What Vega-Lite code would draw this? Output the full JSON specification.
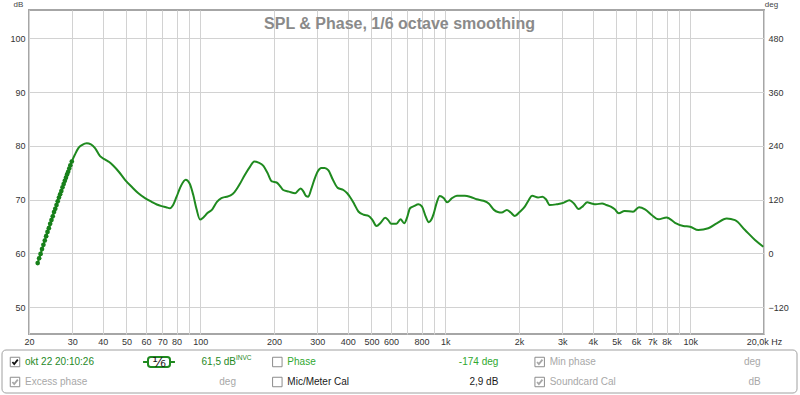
{
  "$schema": "https://vega.github.io/schema/vega-lite/v6.json",
  "width": 735,
  "height": 324,
  "autosize": {"type": "none"},
  "padding": {"left": 29, "top": 10, "right": 36, "bottom": 61},
  "background": "white",
  "config": {
    "font": "Liberation Sans",
    "view": {"stroke": "#a6a6a6", "strokeWidth": 2},
    "axis": {"labelFont": "Liberation Sans", "labelFontSize": 9, "labelColor": "#333333", "ticks": false, "domain": false, "gridColor": "#d2d2d2", "gridWidth": 1, "gridOpacity": 1, "titleFont": "Liberation Sans", "titleFontWeight": "normal", "titleFontSize": 8, "titleColor": "#444444"}
  },
  "title": {
    "text": "SPL & Phase, 1/6 octave smoothing",
    "font": "Liberation Sans",
    "fontSize": 16,
    "fontWeight": "bold",
    "color": "#8a8a8a",
    "anchor": "middle",
    "frame": "group",
    "baseline": "alphabetic",
    "offset": 0,
    "dx": 3,
    "dy": 45
  },
  "datasets": {
    "spl": [
      {"freq": 21.7, "db": 58.2}, {"freq": 22.0, "db": 59.1}, {"freq": 22.3, "db": 59.9}, {"freq": 22.6, "db": 60.8},
      {"freq": 22.9, "db": 61.6}, {"freq": 23.2, "db": 62.4}, {"freq": 23.5, "db": 63.2}, {"freq": 23.8, "db": 64.0},
      {"freq": 24.1, "db": 64.7}, {"freq": 24.4, "db": 65.5}, {"freq": 24.7, "db": 66.2}, {"freq": 25.0, "db": 66.9},
      {"freq": 25.3, "db": 67.7}, {"freq": 25.6, "db": 68.3}, {"freq": 25.9, "db": 69.0}, {"freq": 26.2, "db": 69.7},
      {"freq": 26.5, "db": 70.4}, {"freq": 26.8, "db": 71.0}, {"freq": 27.1, "db": 71.6}, {"freq": 27.4, "db": 72.3},
      {"freq": 27.7, "db": 72.9}, {"freq": 28.0, "db": 73.5}, {"freq": 28.3, "db": 74.1}, {"freq": 28.6, "db": 74.7},
      {"freq": 28.9, "db": 75.2}, {"freq": 29.2, "db": 75.8}, {"freq": 29.5, "db": 76.4}, {"freq": 29.9, "db": 77.1},
      {"freq": 30.8, "db": 78.4}, {"freq": 31.8, "db": 79.6}, {"freq": 33.0, "db": 80.2}, {"freq": 34.4, "db": 80.5},
      {"freq": 35.8, "db": 80.3}, {"freq": 37.2, "db": 79.6}, {"freq": 39.0, "db": 78.1}, {"freq": 40.8, "db": 77.5},
      {"freq": 42.5, "db": 77.0}, {"freq": 44.2, "db": 76.3}, {"freq": 46.5, "db": 75.2}, {"freq": 49.3, "db": 73.7},
      {"freq": 52.5, "db": 72.4}, {"freq": 55.9, "db": 71.2}, {"freq": 59.5, "db": 70.3}, {"freq": 63.3, "db": 69.6},
      {"freq": 66.5, "db": 69.1}, {"freq": 69.5, "db": 68.8}, {"freq": 72.5, "db": 68.6}, {"freq": 75.2, "db": 68.4},
      {"freq": 77.5, "db": 69.0}, {"freq": 80.0, "db": 70.5}, {"freq": 83.5, "db": 72.6}, {"freq": 87.2, "db": 73.7},
      {"freq": 90.5, "db": 73.0}, {"freq": 93.6, "db": 70.9}, {"freq": 96.5, "db": 68.3}, {"freq": 99.8, "db": 66.3},
      {"freq": 103, "db": 66.7}, {"freq": 107, "db": 67.5}, {"freq": 112, "db": 68.2}, {"freq": 117, "db": 69.6},
      {"freq": 122, "db": 70.3}, {"freq": 128, "db": 70.55}, {"freq": 133, "db": 70.8}, {"freq": 138, "db": 71.4},
      {"freq": 145, "db": 72.9}, {"freq": 152, "db": 74.6}, {"freq": 160, "db": 76.2}, {"freq": 166, "db": 77.1},
      {"freq": 173, "db": 76.9}, {"freq": 181, "db": 76.3}, {"freq": 188, "db": 75.0}, {"freq": 196, "db": 73.4},
      {"freq": 205, "db": 73.2}, {"freq": 212, "db": 72.5}, {"freq": 218, "db": 71.8}, {"freq": 230, "db": 71.5},
      {"freq": 244, "db": 71.2}, {"freq": 251, "db": 71.7}, {"freq": 257, "db": 72.1}, {"freq": 264, "db": 71.5},
      {"freq": 270, "db": 70.7}, {"freq": 276, "db": 70.55}, {"freq": 284, "db": 72.0}, {"freq": 292, "db": 73.7},
      {"freq": 302, "db": 75.3}, {"freq": 312, "db": 75.9}, {"freq": 322, "db": 75.9}, {"freq": 333, "db": 75.5},
      {"freq": 348, "db": 73.7}, {"freq": 364, "db": 72.2}, {"freq": 384, "db": 71.8}, {"freq": 398, "db": 71.2},
      {"freq": 408, "db": 70.55}, {"freq": 425, "db": 69.2}, {"freq": 442, "db": 67.8}, {"freq": 465, "db": 67.2},
      {"freq": 486, "db": 67.0}, {"freq": 505, "db": 66.2}, {"freq": 524, "db": 65.1}, {"freq": 545, "db": 65.7},
      {"freq": 569, "db": 66.65}, {"freq": 585, "db": 66.2}, {"freq": 602, "db": 65.5}, {"freq": 632, "db": 65.5},
      {"freq": 657, "db": 66.35}, {"freq": 680, "db": 65.6}, {"freq": 700, "db": 66.8}, {"freq": 718, "db": 68.4},
      {"freq": 745, "db": 68.8}, {"freq": 778, "db": 69.14}, {"freq": 804, "db": 68.7}, {"freq": 830, "db": 67.0},
      {"freq": 857, "db": 65.8}, {"freq": 878, "db": 66.3}, {"freq": 898, "db": 67.46}, {"freq": 925, "db": 69.6},
      {"freq": 950, "db": 70.68}, {"freq": 985, "db": 70.3}, {"freq": 1018, "db": 69.5}, {"freq": 1060, "db": 70.2},
      {"freq": 1116, "db": 70.74}, {"freq": 1202, "db": 70.74}, {"freq": 1270, "db": 70.5}, {"freq": 1344, "db": 70.07},
      {"freq": 1432, "db": 69.8}, {"freq": 1504, "db": 69.3}, {"freq": 1581, "db": 68.1}, {"freq": 1640, "db": 67.7},
      {"freq": 1700, "db": 67.6}, {"freq": 1784, "db": 68.1}, {"freq": 1850, "db": 67.6}, {"freq": 1924, "db": 66.96},
      {"freq": 2010, "db": 67.7}, {"freq": 2112, "db": 68.7}, {"freq": 2190, "db": 69.9}, {"freq": 2262, "db": 70.74},
      {"freq": 2392, "db": 70.4}, {"freq": 2496, "db": 70.55}, {"freq": 2576, "db": 70.07}, {"freq": 2672, "db": 69.0},
      {"freq": 2848, "db": 69.14}, {"freq": 3034, "db": 69.4}, {"freq": 3212, "db": 69.9}, {"freq": 3350, "db": 69.3},
      {"freq": 3504, "db": 68.26}, {"freq": 3650, "db": 68.8}, {"freq": 3798, "db": 69.5}, {"freq": 3950, "db": 69.3},
      {"freq": 4118, "db": 69.14}, {"freq": 4366, "db": 69.3}, {"freq": 4550, "db": 69.0}, {"freq": 4738, "db": 68.7},
      {"freq": 4920, "db": 68.2}, {"freq": 5108, "db": 67.46}, {"freq": 5390, "db": 67.9}, {"freq": 5840, "db": 67.76},
      {"freq": 6178, "db": 68.58}, {"freq": 6536, "db": 68.2}, {"freq": 6960, "db": 67.15}, {"freq": 7406, "db": 66.35},
      {"freq": 8014, "db": 66.7}, {"freq": 8664, "db": 65.7}, {"freq": 9368, "db": 65.1}, {"freq": 9978, "db": 64.97},
      {"freq": 10786, "db": 64.35}, {"freq": 11848, "db": 64.67}, {"freq": 12824, "db": 65.6}, {"freq": 14086, "db": 66.5},
      {"freq": 15232, "db": 66.2}, {"freq": 16732, "db": 64.35}, {"freq": 18380, "db": 62.5}, {"freq": 19868, "db": 61.25}
    ],
    "legend": [
      {"section": "A", "row": "1", "checked": true, "state": "trace", "name": "okt 22 20:10:26", "value": "61,5 dB", "sup": "INVC", "smoothing": "¹⁄₆"},
      {"section": "A", "row": "2", "checked": true, "state": "disabled", "name": "Excess phase", "value": "deg"},
      {"section": "B", "row": "1", "checked": false, "state": "phase", "name": "Phase", "value": "-174 deg"},
      {"section": "B", "row": "2", "checked": false, "state": "plain", "name": "Mic/Meter Cal", "value": "2,9 dB"},
      {"section": "C", "row": "1", "checked": true, "state": "disabled", "name": "Min phase", "value": "deg"},
      {"section": "C", "row": "2", "checked": true, "state": "disabled", "name": "Soundcard Cal", "value": "dB"}
    ]
  },
  "layer": [
    {
      "data": {"name": "spl"},
      "encoding": {
        "x": {
          "field": "freq", "type": "quantitative",
          "scale": {"type": "log", "domain": [20, 20000], "nice": false},
          "axis": {
            "title": null,
            "values": [20, 30, 40, 50, 60, 70, 80, 90, 100, 200, 300, 400, 500, 600, 700, 800, 900, 1000, 2000, 3000, 4000, 5000, 6000, 7000, 8000, 9000, 10000, 20000],
            "labelExpr": "datum.value == 20000 ? '20,0k Hz' : (datum.value == 90 || datum.value == 700 || datum.value == 900 || datum.value == 9000) ? '' : (datum.value >= 1000 ? (datum.value / 1000) + 'k' : '' + datum.value)",
            "labelFlush": false,
            "labelOverlap": false,
            "labelPadding": 3,
            "grid": true
          }
        }
      },
      "layer": [
        {
          "mark": {"type": "line", "color": "#1f8a1f", "strokeWidth": 2, "interpolate": "monotone"},
          "encoding": {
            "y": {
              "field": "db", "type": "quantitative",
              "scale": {"domain": [45, 105.3], "nice": false, "zero": false},
              "axis": {"values": [50, 60, 70, 80, 90, 100], "title": "dB", "titleAngle": 0, "titleX": -11, "titleY": -6, "titleAlign": "center", "titleBaseline": "middle", "labelPadding": 4, "grid": true}
            }
          }
        },
        {
          "transform": [{"filter": "datum.freq <= 30"}],
          "mark": {"type": "point", "filled": true, "size": 22, "color": "#17801a", "opacity": 1},
          "encoding": {
            "y": {"field": "db", "type": "quantitative", "scale": {"domain": [45, 105.3], "nice": false, "zero": false}, "axis": null}
          }
        },
        {
          "mark": {"type": "line", "strokeOpacity": 0},
          "encoding": {
            "y": {
              "field": "db", "type": "quantitative",
              "scale": {"domain": [45, 105.3], "nice": false, "zero": false},
              "axis": {"orient": "right", "values": [50, 60, 70, 80, 90, 100], "labelExpr": "format((datum.value - 60) * 12, 'd')", "title": "deg", "titleAngle": 0, "titleX": 7, "titleY": -6, "titleAlign": "center", "titleBaseline": "middle", "labelPadding": 4, "grid": false}
            }
          }
        }
      ],
      "resolve": {"axis": {"y": "independent"}}
    },
    {
      "data": {"values": [{"panel": "legend"}]},
      "mark": {"type": "rect", "fill": "white", "stroke": "#a0a0a0", "strokeWidth": 1, "cornerRadius": 4},
      "encoding": {
        "x": {"datum": 0, "type": "quantitative", "scale": {"domain": [0, 1], "range": [-27, 768], "nice": false, "zero": false}, "axis": null},
        "x2": {"datum": 1},
        "y": {"datum": 0, "type": "quantitative", "scale": {"domain": [0, 1], "range": [340, 383], "nice": false, "zero": false}, "axis": null},
        "y2": {"datum": 1}
      }
    },
    {
      "data": {"name": "legend"},
      "encoding": {
        "x": {"field": "section", "type": "nominal", "bandPosition": 0, "scale": {"type": "band", "domain": ["A", "B", "C"], "range": [-19, 768], "paddingInner": 0, "paddingOuter": 0}, "axis": null},
        "y": {"field": "row", "type": "nominal", "scale": {"type": "point", "domain": ["1", "2"], "range": [352, 372], "padding": 0}, "axis": null}
      },
      "layer": [
        {
          "mark": {"type": "point", "shape": "square", "size": 90, "xOffset": 5, "filled": true, "fill": "white", "stroke": "#8c8c8c", "strokeWidth": 1, "opacity": 1}
        },
        {
          "transform": [{"filter": "datum.checked"}],
          "mark": {"type": "point", "shape": "M-0.65,0L-0.2,0.5L0.7,-0.6", "size": 64, "xOffset": 5, "filled": false, "strokeWidth": 1.8, "opacity": 1},
          "encoding": {"stroke": {"field": "state", "type": "nominal", "scale": {"domain": ["trace", "disabled"], "range": ["#111111", "#a8a8a8"]}, "legend": null}}
        },
        {
          "mark": {"type": "text", "align": "left", "baseline": "middle", "dx": 15, "fontSize": 10, "font": "Liberation Sans"},
          "encoding": {
            "text": {"field": "name"},
            "fill": {"field": "state", "type": "nominal", "scale": {"domain": ["trace", "phase", "plain", "disabled"], "range": ["#1f8a1f", "#30a830", "#1a1a1a", "#a8a8a8"]}, "legend": null}
          }
        },
        {
          "mark": {"type": "text", "align": "right", "baseline": "middle", "dx": 226, "fontSize": 10, "font": "Liberation Sans"},
          "encoding": {
            "text": {"field": "value"},
            "fill": {"field": "state", "type": "nominal", "legend": null}
          }
        },
        {
          "transform": [{"filter": "datum.sup"}],
          "mark": {"type": "text", "align": "left", "baseline": "middle", "dx": 226, "dy": -4, "fontSize": 6.5, "font": "Liberation Sans", "color": "#1f8a1f"},
          "encoding": {"text": {"field": "sup"}}
        },
        {
          "transform": [{"filter": "datum.smoothing"}],
          "mark": {"type": "point", "shape": "M-1.45,0H-1M1,0H1.45M-0.75,-0.45H0.75Q1,-0.45,1,-0.2V0.2Q1,0.45,0.75,0.45H-0.75Q-1,0.45,-1,0.2V-0.2Q-1,-0.45,-0.75,-0.45Z", "size": 484, "xOffset": 149, "filled": false, "fill": "white", "fillOpacity": 1, "stroke": "#1f8a1f", "strokeWidth": 2, "opacity": 1}
        },
        {
          "transform": [{"filter": "datum.smoothing"}],
          "mark": {"type": "text", "align": "center", "baseline": "middle", "dx": 149, "dy": 0.5, "fontSize": 14, "font": "DejaVu Sans", "color": "#1a1a1a"},
          "encoding": {"text": {"field": "smoothing"}}
        }
      ]
    }
  ],
  "resolve": {"scale": {"x": "independent", "y": "independent"}}
}
